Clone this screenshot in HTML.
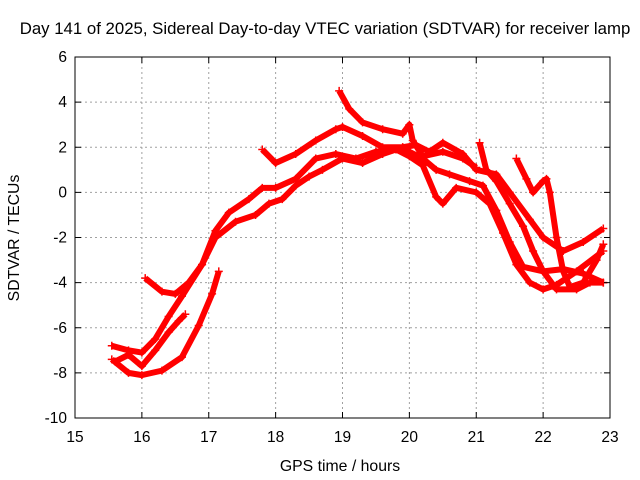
<!DOCTYPE html>
<html><head><meta charset="utf-8"><style>
body{margin:0;background:#fff;}
svg{display:block;font-family:"Liberation Sans",sans-serif;}
</style></head><body>
<svg id="chart" width="640" height="480">
<text x="325" y="34" font-size="16.8" text-anchor="middle">Day 141 of 2025, Sidereal Day-to-day VTEC variation (SDTVAR) for receiver lamp</text>
<text x="340" y="471" font-size="15.8" text-anchor="middle">GPS time / hours</text>
<text transform="translate(19,238) rotate(-90)" font-size="15.8" text-anchor="middle">SDTVAR / TECUs</text>
<g id="grid"></g><g id="series"></g><g id="axes"></g>
</svg>
<script>
const xTicks=[15,16,17,18,19,20,21,22,23];
const yTicks=[6,4,2,0,-2,-4,-6,-8,-10];
const s1x=[15.55,15.8,16.0,16.2,16.4,16.6,16.9,17.1,17.3,17.6,17.8,18.0,18.3,18.6,18.9,19.2,19.5,19.8,20.0,20.2,20.4,20.5,20.7,21.0,21.2,21.4,21.6,21.8,22.0,22.2,22.5,22.9];
const s1y=[-6.8,-7.0,-7.1,-6.5,-5.5,-4.6,-3.2,-1.7,-0.9,-0.3,0.2,0.2,0.6,1.5,1.7,1.5,1.8,1.9,1.6,1.2,-0.2,-0.5,0.2,0.0,-0.5,-1.8,-3.2,-4.0,-4.3,-4.1,-3.5,-2.6];
const s2x=[16.05,16.3,16.5,16.7,16.9,17.1,17.4,17.7,17.9,18.1,18.3,18.5,18.7,19.0,19.3,19.6,19.9,20.1,20.3,20.5,20.8,21.0,21.3,21.5,21.8,22.0,22.3,22.6,22.9];
const s2y=[-3.8,-4.4,-4.5,-4.0,-3.2,-2.0,-1.3,-1.0,-0.5,-0.3,0.3,0.7,1.0,1.5,1.3,1.7,2.0,2.1,1.8,2.2,1.7,1.0,0.8,0.0,-1.2,-2.0,-2.6,-2.2,-1.6];
const s3x=[15.55,15.8,16.0,16.3,16.6,16.85,17.05,17.15];
const s3y=[-7.4,-8.0,-8.1,-7.9,-7.3,-5.9,-4.5,-3.5];
const s4x=[15.6,15.8,16.0,16.2,16.4,16.55,16.65];
const s4y=[-7.5,-7.2,-7.7,-7.0,-6.2,-5.7,-5.4];
const s5x=[17.8,18.0,18.3,18.6,18.9,19.0,19.3,19.6,19.9,20.0,20.2,20.4,20.6,20.9,21.1,21.3,21.5,21.7,22.0,22.3,22.6,22.9];
const s5y=[1.9,1.3,1.7,2.3,2.8,2.9,2.5,2.0,2.0,1.8,1.5,1.0,0.8,0.5,0.3,-0.8,-2.2,-3.3,-3.5,-3.4,-3.6,-4.0];
const s6x=[18.95,19.1,19.3,19.6,19.9,20.0,20.05,20.2,20.5,20.8,21.0];
const s6y=[4.5,3.7,3.1,2.8,2.6,3.0,2.3,1.6,1.8,1.5,1.1];
const s7x=[21.05,21.15,21.3,21.5,21.7,21.85,22.0,22.2,22.5,22.7,22.9];
const s7y=[2.2,1.0,0.5,-0.5,-1.5,-2.6,-3.5,-4.3,-4.3,-4.0,-4.0];
const s8x=[21.6,21.75,21.85,22.0,22.05,22.1,22.2,22.3,22.4,22.6,22.8,22.9];
const s8y=[1.5,0.6,0.0,0.5,0.6,0.0,-2.0,-3.5,-4.2,-4.0,-3.0,-2.3];
const allX=[s1x,s2x,s3x,s4x,s5x,s6x,s7x,s8x];
const allY=[s1y,s2y,s3y,s4y,s5y,s6y,s7y,s8y];

const L=75,R=610,T=57,B=418;
const X=v=>L+(v-15)/(23-15)*(R-L);
const Y=v=>B-(v+10)/16*(B-T);
const NS="http://www.w3.org/2000/svg";
function mk(tag,parent,attrs){const e=document.createElementNS(NS,tag);for(const k in attrs)e.setAttribute(k,attrs[k]);parent.appendChild(e);return e;}
const grid=document.getElementById('grid'),axes=document.getElementById('axes'),ser=document.getElementById('series');
xTicks.forEach(t=>{
  if(t>15&&t<23){const g=mk('line',grid,{x1:X(t),x2:X(t),y1:T,y2:B,stroke:'#a0a0a0','stroke-dasharray':'2,3'});
  
  }
  const tk=mk('line',axes,{x1:X(t),x2:X(t),y1:B,y2:B-6,stroke:'#000'});
  
  
  const tk2=mk('line',axes,{x1:X(t),x2:X(t),y1:T,y2:T+6,stroke:'#000'});
  
  
  const lb=mk('text',axes,{x:X(t),y:B+24,'font-size':15.5,'text-anchor':'middle'});lb.textContent=t;
  
  
});
yTicks.forEach(t=>{
  if(t>-10&&t<6){const g=mk('line',grid,{x1:L,x2:R,y1:Y(t),y2:Y(t),stroke:'#a0a0a0','stroke-dasharray':'2,3'});
  
  }
  const tk=mk('line',axes,{x1:L,x2:L+6,y1:Y(t),y2:Y(t),stroke:'#000'});
  
  
  const tk2=mk('line',axes,{x1:R,x2:R-6,y1:Y(t),y2:Y(t),stroke:'#000'});
  
  
  const lb=mk('text',axes,{x:L-8,y:Y(t)+5,'font-size':15.5,'text-anchor':'end'});lb.textContent=t;
  
  
});
const fr=mk('rect',axes,{x:L,y:T,width:R-L,height:B-T,fill:'none',stroke:'#000'});


allX.forEach((xs,i)=>{
  const ys=allY[i];
  const pts=xs.map((x,j)=>X(x)+','+Y(ys[j])).join(' ');
  const pl=mk('polyline',ser,{points:pts,fill:'none',stroke:'#ff0000','stroke-width':6,'stroke-linejoin':'round'});
  
  
  xs.forEach((x,j)=>{
    const px=X(x),py=Y(ys[j]);
    const m=mk('path',ser,{d:`M${px-4},${py}H${px+4}M${px},${py-4}V${py+4}`,stroke:'#ff0000','stroke-width':1.5});
    
    
  });
});
</script>
</body></html>
